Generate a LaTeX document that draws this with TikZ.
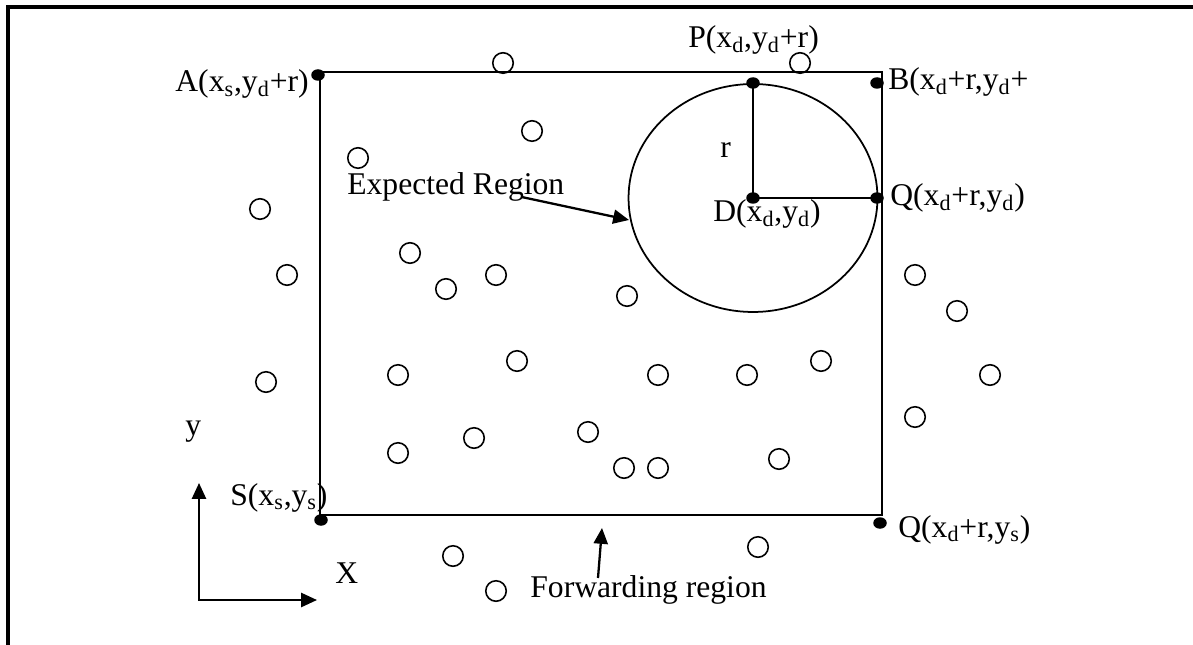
\documentclass[tikz,border=0pt]{standalone}
\usepackage{fontspec}
\setmainfont{Liberation Serif}
\usetikzlibrary{arrows.meta}
\usetikzlibrary{shapes.geometric}

\tikzset{
  every node/.style={font=\fontsize{18}{22}\selectfont, inner sep=0pt},
  sensor/.style={circle, draw, line width=0.9pt, minimum size=0.41cm},
  pt/.style={ellipse, fill, minimum width=0.27cm, minimum height=0.23cm},
  arr/.style={line width=1.3pt, -{Triangle[length=9pt,width=8pt]}},
}

\begin{document}
\begin{tikzpicture}[x=0.02cm, y=-0.02cm]
\useasboundingbox (0,0) rectangle (1193,645);

\draw[line width=2pt] (8,645) -- (8,7) -- (1193,7);

\coordinate (nw) at (320,72);
\coordinate (se) at (882,515);
\draw[line width=1.2pt] (nw) rectangle (se);

\node[pt] (A) at (318,75) {};
\node[pt] (B) at (877,83) {};
\node[pt] (P) at (753,83) {};
\node[pt] (D) at (753,198) {};
\node[pt] (Q) at (877,198) {};
\node[pt] (S) at (321,520) {};
\node[pt] (Qs) at (880,523) {};

\draw[line width=1pt] (D.center) ellipse [x radius=2.49cm, y radius=2.28cm];
\draw[line width=1.2pt] (P.center) -- (D.center) -- (Q.center);

\foreach \px/\py [count=\i] in {503/63, 800/63, 532/131, 358/158, 260/209,
    410/253, 287/275, 446/289, 496/275, 627/296, 915/275, 957/311,
    266/382, 398/375, 517/361, 658/375, 747/375, 821/361, 990/375,
    915/417, 398/453, 474/438, 588/432, 624/468, 658/468, 779/459,
    453/556, 758/547, 496/591}
  \node[sensor] (n\i) at (\px,\py) {};

\node[anchor=base east] (lA) at (309,92) {A(x\textsubscript{s},y\textsubscript{d}+r)};
\node[anchor=base west] (lP) at (688,48) {P(x\textsubscript{d},y\textsubscript{d}+r)};
\node[anchor=base west] (lB) at (888,90) {B(x\textsubscript{d}+r,y\textsubscript{d}+};
\node[anchor=base west] (lQ) at (890,206) {Q(x\textsubscript{d}+r,y\textsubscript{d})};
\node[anchor=base west] (lD) at (713,222) {D(x\textsubscript{d},y\textsubscript{d})};
\node[anchor=base west] (lr) at (720,158) {r};
\node[anchor=base west] (lS) at (230,505) {S(x\textsubscript{s},y\textsubscript{s})};
\node[anchor=base west] (lQs) at (898,537) {Q(x\textsubscript{d}+r,y\textsubscript{s})};

\node[anchor=base west] (er) at (347,195) {Expected Region};
\coordinate (etip) at (629,220);
\draw[arr] ([xshift=-0.86cm,yshift=-0.04cm]er.base east) -- (etip);

\node[anchor=base west] (fr) at (530,597) {Forwarding region};
\coordinate (ftip) at (602,528);
\draw[arr] ([xshift=1.36cm,yshift=0.38cm]fr.base west) -- (ftip);

\node[anchor=base west] (ly) at (185,435) {y};
\node[anchor=base west] (lx) at (335,583) {X};
\coordinate (o) at (199,600);
\coordinate (yax) at (199,483);
\coordinate (xax) at (317,600);
\draw[line width=1.2pt, {Triangle[length=9pt,width=8pt]}-{Triangle[length=9pt,width=8pt]}] (yax) -- (o) -- (xax);
\end{tikzpicture}
\end{document}
